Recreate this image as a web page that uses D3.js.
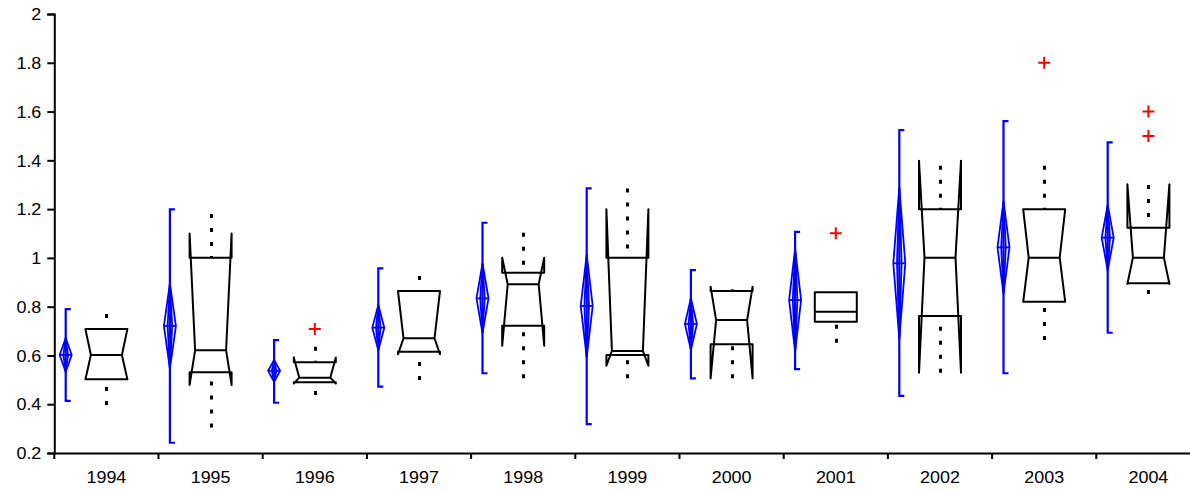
<!DOCTYPE html>
<html>
<head>
<meta charset="utf-8">
<script src="https://d3js.org/d3.v7.min.js"></script>
<style>
  body { margin: 0; background: #fff; }
</style>
</head>
<body>
<div id="chart"></div>
<script>
// values
var years = ["1994", "1995", "1996", "1997", "1998", "1999", "2000", "2001", "2002", "2003", "2004"];

// blue: mean, half-height of the diamond, range bracket
var means   = [0.602, 0.721, 0.537, 0.714, 0.834, 0.803, 0.729, 0.827, 0.978, 1.043, 1.083];
var meanCI  = [0.069, 0.175, 0.045, 0.093, 0.143, 0.210, 0.106, 0.210, 0.310, 0.190, 0.135];
var rangeLo = [0.414, 0.242, 0.406, 0.472, 0.527, 0.318, 0.506, 0.544, 0.434, 0.527, 0.693];
var rangeHi = [0.790, 1.199, 0.663, 0.957, 1.144, 1.285, 0.950, 1.107, 1.524, 1.561, 1.474];

// black: notched box plots
var q1      = [0.502, 0.531, 0.490, 0.615, 0.722, 0.602, 0.646, 0.738, 0.762, 0.820, 0.896];
var medians = [0.602, 0.621, 0.509, 0.670, 0.892, 0.618, 0.745, 0.779, 1.001, 1.001, 1.001];
var q3      = [0.708, 1.001, 0.572, 0.864, 0.939, 1.001, 0.864, 0.859, 1.199, 1.199, 1.124];
var notchLo = [0.502, 0.479, 0.485, 0.605, 0.640, 0.558, 0.506, null, 0.529, 0.820, 0.893];
var notchHi = [0.708, 1.100, 0.592, 0.864, 1.001, 1.199, 0.882, null, 1.398, 1.199, 1.302];
var whiskLo = [0.397, 0.305, 0.438, 0.499, 0.506, 0.506, 0.506, 0.652, 0.529, 0.663, 0.852];
var whiskHi = [0.770, 1.180, 0.636, 0.926, 1.103, 1.285, 0.871, 0.860, 1.378, 1.378, 1.299];

// red outliers
var outYears  = ["1996", "2001", "2003", "2004", "2004"];
var outValues = [0.708, 1.101, 1.800, 1.600, 1.500];

var yTicks = [0.2, 0.4, 0.6, 0.8, 1, 1.2, 1.4, 1.6, 1.8, 2];

var W = 1190, H = 490;
var margin = { top: 14, left: 54.3, bottom: 37 };
var height = H - margin.top - margin.bottom;
var plotRight = 1200.5;   // last category runs past the window edge
var stretch = 1.12;       // the original's labels are drawn a little wide

var svg = d3.select("#chart").append("svg")
  .attr("width", W)
  .attr("height", H);

var g = svg.append("g")
  .attr("transform", `translate(${margin.left}, ${margin.top})`);

var x = d3.scaleBand()
  .domain(years)
  .range([0, plotRight - margin.left])
  .padding(0);

var y = d3.scaleLinear()
  .domain([0.2, 2])
  .range([height, 0]);

var bw = x.bandwidth();

// axes
var yAxis = g.append("g")
  .call(d3.axisLeft(y).tickValues(yTicks).tickSize(7).tickPadding(6).tickFormat(d3.format("")));
var xAxis = g.append("g")
  .attr("transform", `translate(0, ${height})`)
  .call(d3.axisBottom(x).tickSize(0).tickPadding(19));

[yAxis, xAxis].forEach(function(a) {
  a.attr("font-size", 16).attr("font-family", "Liberation Sans, Arial, sans-serif");
  a.select(".domain").attr("stroke", "#000").attr("stroke-width", 2);
  a.selectAll("text").attr("fill", "#000")
    .attr("x", function() { return +d3.select(this).attr("x") / stretch; })
    .attr("transform", `scale(${stretch},1)`);
});
yAxis.selectAll(".tick line").attr("stroke-width", 2);
yAxis.selectAll("text").attr("dy", "0.36em");

// category separators on x axis
g.selectAll("line.xtick")
  .data(years)
  .enter()
  .append("line")
  .attr("class", "xtick")
  .attr("x1", d => x(d))
  .attr("x2", d => x(d))
  .attr("y1", height)
  .attr("y2", height + 6)
  .attr("stroke", "#000")
  .attr("stroke-width", 2);

var blue = "#0000ff";
var bx = d => x(d) + 11.4;   // bracket / diamond position in each band
var cx = d => x(d) + bw / 2; // box centre
var wx = d => Math.round(margin.left + cx(d)) + 0.5 - margin.left; // crisp whisker column

// range brackets
g.selectAll("path.bracket")
  .data(years)
  .enter()
  .append("path")
  .attr("class", "bracket")
  .attr("d", (d, i) => `M${bx(d) + 5},${y(rangeHi[i])}H${bx(d)}V${y(rangeLo[i])}H${bx(d) + 5}`)
  .attr("fill", "none")
  .attr("stroke", blue)
  .attr("stroke-width", 2.2);

// mean diamonds (outer and inner)
[6, 2.3].forEach(function(hw) {
  g.selectAll(null)
    .data(years)
    .enter()
    .append("path")
    .attr("d", (d, i) => `M${bx(d)},${y(means[i] + meanCI[i])}L${bx(d) + hw},${y(means[i])}L${bx(d)},${y(means[i] - meanCI[i])}L${bx(d) - hw},${y(means[i])}Z`)
    .attr("fill", "none")
    .attr("stroke", blue)
    .attr("stroke-width", 1.8);
});
g.selectAll("line.meanline")
  .data(years)
  .enter()
  .append("line")
  .attr("class", "meanline")
  .attr("x1", d => bx(d) - 6)
  .attr("x2", d => bx(d) + 6)
  .attr("y1", (d, i) => y(means[i]))
  .attr("y2", (d, i) => y(means[i]))
  .attr("stroke", blue)
  .attr("stroke-width", 1.8);

// whiskers (dotted), drawn from the whisker end back to the box
var dots = "4,10";
g.selectAll("line.whiskHi")
  .data(years)
  .enter()
  .append("line")
  .attr("x1", wx).attr("x2", wx)
  .attr("y1", (d, i) => y(whiskHi[i]))
  .attr("y2", (d, i) => y(q3[i]))
  .attr("stroke", "#000")
  .attr("stroke-width", 3)
  .attr("stroke-dasharray", dots);
g.selectAll("line.whiskLo")
  .data(years)
  .enter()
  .append("line")
  .attr("x1", wx).attr("x2", wx)
  .attr("y1", (d, i) => y(whiskLo[i]))
  .attr("y2", (d, i) => y(q1[i]))
  .attr("stroke", "#000")
  .attr("stroke-width", 3)
  .attr("stroke-dasharray", dots);

// notched boxes
var hw = 21, nw = 15.5;
g.selectAll("path.box")
  .data(years)
  .enter()
  .append("path")
  .attr("class", "box")
  .attr("d", function(d, i) {
    var c = cx(d), L = c - hw, R = c + hw;
    if (notchLo[i] == null) {
      return `M${L},${y(q1[i])}V${y(q3[i])}H${R}V${y(q1[i])}Z` +
             `M${L},${y(medians[i])}H${R}`;
    }
    var pts = [
      [L, q1[i]], [L, notchLo[i]], [c - nw, medians[i]], [L, notchHi[i]], [L, q3[i]],
      [R, q3[i]], [R, notchHi[i]], [c + nw, medians[i]], [R, notchLo[i]], [R, q1[i]]
    ];
    return "M" + pts.map(p => p[0] + "," + y(p[1])).join("L") + "Z" +
      `M${c - nw},${y(medians[i])}H${c + nw}`;
  })
  .attr("fill", "none")
  .attr("stroke", "#000")
  .attr("stroke-width", 2)
  .attr("stroke-linejoin", "round");

// outliers
g.selectAll("path.out")
  .data(outValues)
  .enter()
  .append("path")
  .attr("d", (v, i) => {
    var c = cx(outYears[i]), yy = y(v);
    return `M${c - 6},${yy}H${c + 6}M${c},${yy - 6}V${yy + 6}`;
  })
  .attr("stroke", "#ff0000")
  .attr("stroke-width", 2);
</script>
</body>
</html>
